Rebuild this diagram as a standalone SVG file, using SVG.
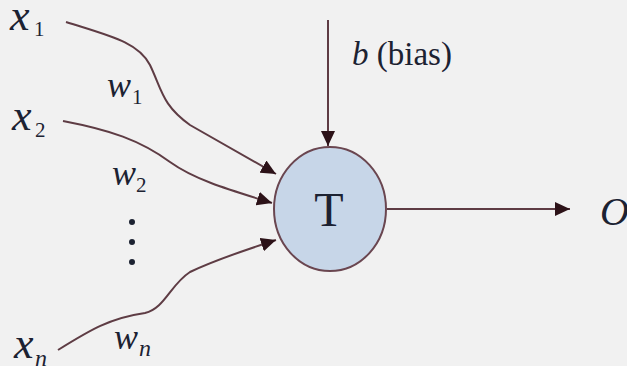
<svg xmlns="http://www.w3.org/2000/svg" width="627" height="366" viewBox="0 0 627 366">
<style>
.bg{fill:#f1f1f1}
.ln{fill:none;stroke:#5e3c44;stroke-width:2}
.lbl{font-family:"Liberation Serif","Times New Roman",serif;fill:#1c2232}
.it{font-style:italic}
.node{fill:#c7d6e8;stroke:#6a4650;stroke-width:2}
</style>
<defs>
<marker id="ah" markerUnits="userSpaceOnUse" markerWidth="16" markerHeight="14" refX="15" refY="7" orient="auto">
<path d="M0,0 L15,7 L0,14 Z" fill="#2c1218"/>
</marker>
</defs>
<rect class="bg" width="627" height="366"/>
<g id="connectors">
<path class="ln" d="M66,22 C110,36 138,42 150,65 C162,90 162,105 190,125 L276,174" marker-end="url(#ah)"/>
<path class="ln" d="M63,121 C110,130 140,140 170,162 C195,180 230,190 272,203" marker-end="url(#ah)"/>
<path class="ln" d="M58,350 C90,330 110,318 145,313 C165,308 170,285 190,272 C215,260 245,250 276,240" marker-end="url(#ah)"/>
<path class="ln" d="M328,20 L328,146" marker-end="url(#ah)"/>
<path class="ln" d="M387,209 L570,209" marker-end="url(#ah)"/>
</g>
<g id="node-T">
<ellipse class="node" cx="330" cy="209" rx="56" ry="62"/>
<text class="lbl" x="329" y="226" font-size="48" text-anchor="middle">T</text>
</g>
<g id="input-x1">
<text class="lbl it" x="10" y="30" font-size="44">x</text>
<text class="lbl" x="34" y="36" font-size="21">1</text>
</g>
<g id="input-x2">
<text class="lbl it" x="12" y="130" font-size="44">x</text>
<text class="lbl" x="35" y="137" font-size="21">2</text>
</g>
<g id="input-xn">
<text class="lbl it" x="14" y="358" font-size="44">x</text>
<text class="lbl it" x="35" y="366" font-size="24">n</text>
</g>
<g id="weight-w1">
<text class="lbl it" x="107" y="97" font-size="36">w</text>
<text class="lbl" x="132" y="104" font-size="21">1</text>
</g>
<g id="weight-w2">
<text class="lbl it" x="112" y="185" font-size="36">w</text>
<text class="lbl" x="136" y="192" font-size="21">2</text>
</g>
<g id="weight-wn">
<text class="lbl it" x="114" y="349" font-size="36">w</text>
<text class="lbl it" x="139" y="356" font-size="24">n</text>
</g>
<g id="dots">
<circle cx="132" cy="222" r="3" fill="#1c2232"/>
<circle cx="132" cy="242" r="3" fill="#1c2232"/>
<circle cx="132" cy="262" r="3" fill="#1c2232"/>
</g>
<g id="bias">
<text class="lbl" x="352" y="65" font-size="33"><tspan class="it">b</tspan> (bias)</text>
</g>
<g id="output-O">
<text class="lbl it" x="600" y="225" font-size="40">O</text>
</g>
</svg>
